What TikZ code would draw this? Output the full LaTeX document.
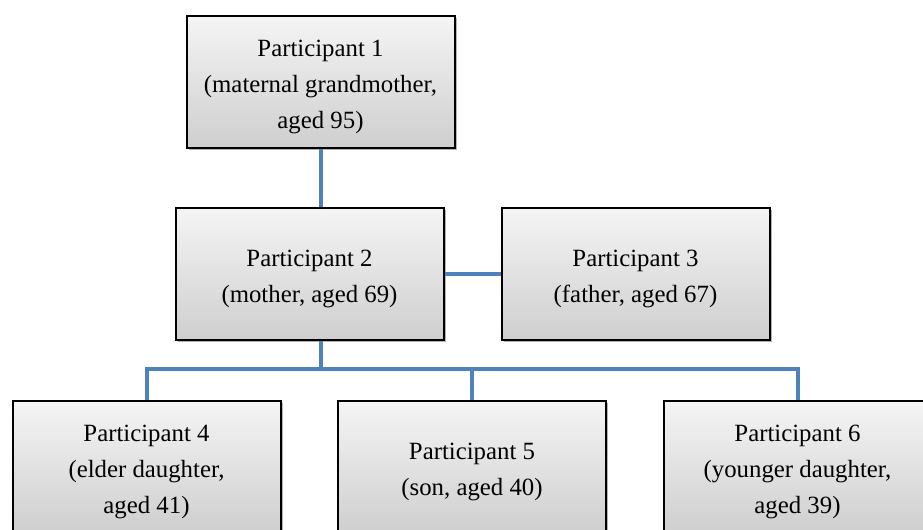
\documentclass[tikz,border=0pt]{standalone}
\usepackage{fontspec}
\setmainfont{Liberation Serif}
\usetikzlibrary{shadows}
\definecolor{linkblue}{HTML}{4F81BD}
\newcommand\ptxtbox[1]{\raisebox{0pt}[\dimexpr\height+5pt\relax][\depth]{\begin{tabular}{@{}c@{}}#1\end{tabular}}}
\begin{document}
\begin{tikzpicture}[x=0.75pt,y=-0.75pt,
  pbox/.style={draw=black, line width=1.5pt, top color=gray!8, bottom color=gray!38,
    minimum width=201pt, minimum height=99pt, inner sep=0pt,
    font=\fontsize{18.6}{27}\selectfont,
    drop shadow={shadow xshift=1.5pt, shadow yshift=-1.5pt, opacity=0.3, fill=black}},
  link/.style={draw=linkblue, line width=3pt}]
\useasboundingbox (0,0) rectangle (923,529);
\clip (0,0) rectangle (923,529);
\fill[white] (0,0) rectangle (923,529);
\node[pbox] (p1) at (320.5,81.5) {\ptxtbox{Participant 1\\(maternal grandmother,\\aged 95)}};
\node[pbox] (p2) at (309.5,273.5) {\ptxtbox{Participant 2\\(mother, aged 69)}};
\node[pbox] (p3) at (635.5,273.5) {\ptxtbox{Participant 3\\(father, aged 67)}};
\node[pbox] (p4) at (146.5,466.5) {\ptxtbox{Participant 4\\(elder daughter,\\aged 41)}};
\node[pbox] (p5) at (472,466.5) {\ptxtbox{Participant 5\\(son, aged 40)}};
\node[pbox] (p6) at (797.5,466.5) {\ptxtbox{Participant 6\\(younger daughter,\\aged 39)}};
\coordinate (bus) at (321,369);
\draw[link] (p1.south) -- (p1.south |- p2.north);
\draw[link] (p2.east) -- (p3.west);
\draw[link] (p2.south -| bus) -- (bus);
\draw[link] (p4.north) -- (p4.north |- bus) -- (p6.north |- bus) -- (p6.north);
\draw[link] (p5.north) -- (p5.north |- bus);
\end{tikzpicture}
\end{document}
